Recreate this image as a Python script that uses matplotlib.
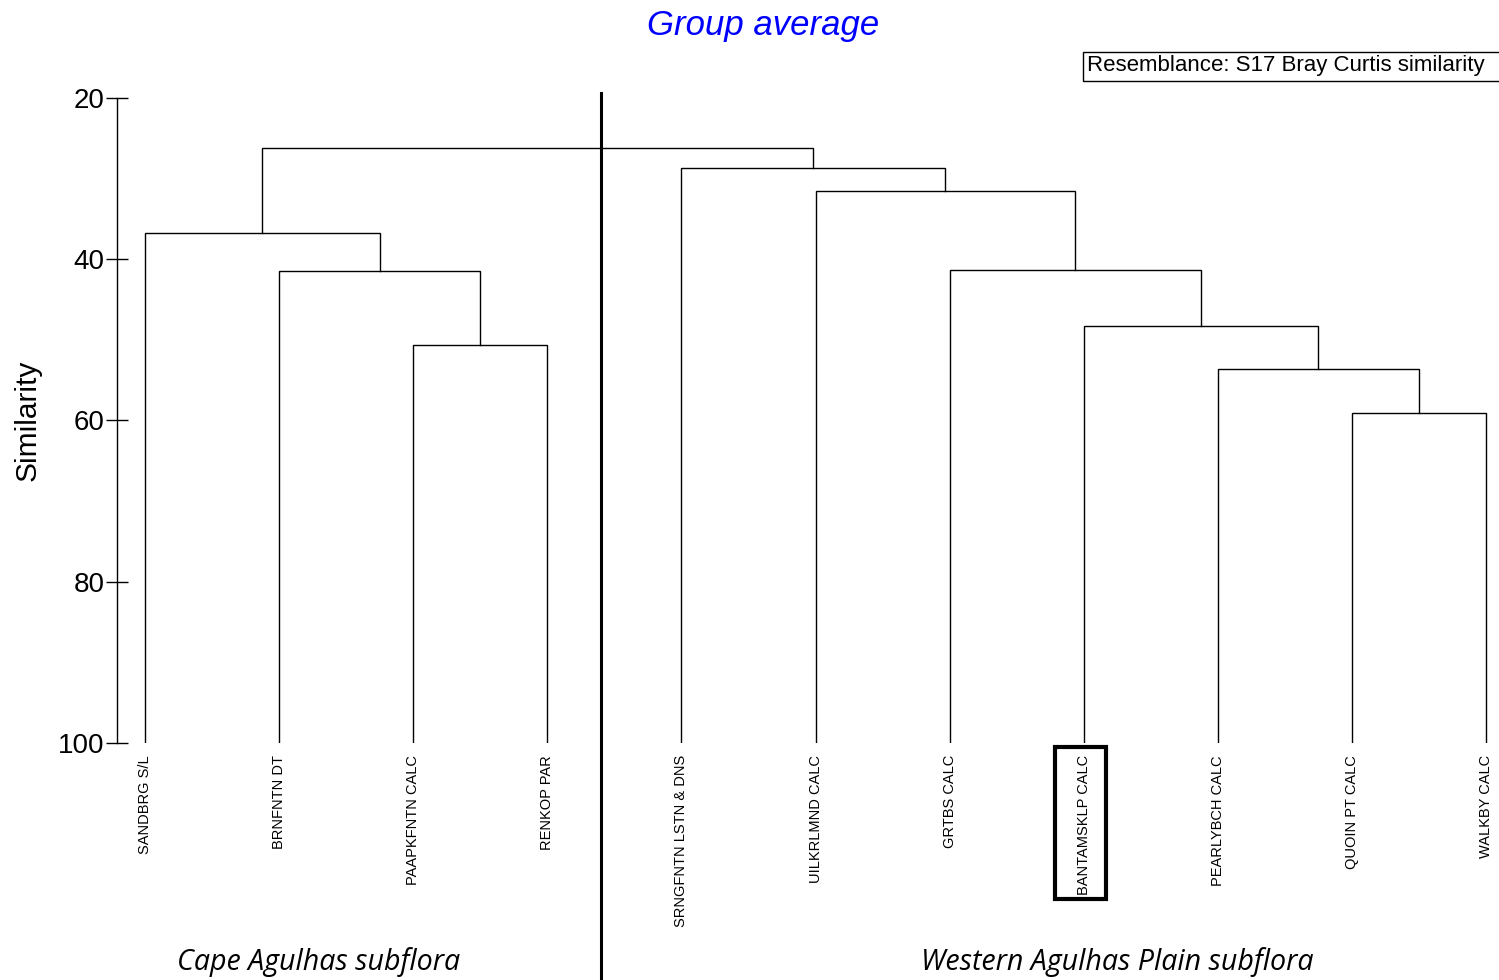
import matplotlib.pyplot as plt
from matplotlib.patches import Rectangle

# leaves in plotted order
leaves = ['SANDBRG S/L', 'BRNFNTN DT', 'PAAPKFNTN CALC', 'RENKOP PAR',
          'SRNGFNTN LSTN & DNS', 'UILKRLMND CALC', 'GRTBS CALC',
          'BANTAMSKLP CALC', 'PEARLYBCH CALC', 'QUOIN PT CALC', 'WALKBY CALC']

# merges: (left node, right node, similarity); nodes >= 11 are earlier merges
merges = [
    (2, 3, 50.6),      # 11
    (1, 11, 41.5),     # 12
    (0, 12, 36.7),     # 13
    (9, 10, 59.1),     # 14
    (8, 14, 53.6),     # 15
    (7, 15, 48.3),     # 16
    (6, 16, 41.3),     # 17
    (5, 17, 31.5),     # 18
    (4, 18, 28.7),     # 19
    (13, 19, 26.2),    # 20
]

yticks = [20, 40, 60, 80, 100]
boxed_leaf = 'BANTAMSKLP CALC'
groups = ['Cape Agulhas subflora', 'Western Agulhas Plain subflora']

fig = plt.figure(figsize=(14.99, 9.8), dpi=100)
ax = fig.add_axes([117/1499, 1-743/980, 1382/1499, 645/980])

n = len(leaves)
xpos = {i: float(i) for i in range(n)}
ypos = {i: 100.0 for i in range(n)}
for k, (a, b, h) in enumerate(merges):
    node = n + k
    ax.plot([xpos[a], xpos[a], xpos[b], xpos[b]], [ypos[a], h, h, ypos[b]],
            color='black', lw=1.0, solid_joinstyle='miter')
    xpos[node] = (xpos[a] + xpos[b]) / 2
    ypos[node] = h

ax.set_xlim(-0.209, 10.097)
ax.set_ylim(100, 20)
for s in ['top', 'right', 'bottom']:
    ax.spines[s].set_visible(False)
ax.spines['left'].set_linewidth(1.0)
ax.set_xticks([])
ax.set_yticks(yticks)
ax.tick_params(axis='y', direction='inout', length=16, width=1.0, labelsize=20, pad=1)
for lab in ax.get_yticklabels():
    lab.set_fontfamily('Liberation Sans')
ax.set_ylabel('Similarity', fontsize=21.5, family='Liberation Sans', labelpad=12)

for i, name in enumerate(leaves):
    ax.text(i, 101.5, name, rotation=90, ha='center', va='top',
            fontsize=10.5, family='Liberation Sans', clip_on=False)
    if name == boxed_leaf:
        ax.add_patch(Rectangle((i - 29/134, 100.5), 51/134, 18.85, fill=False,
                               edgecolor='black', lw=3, clip_on=False))

# separator line between the two subfloras
ax.plot([3.4, 3.4], [1.008, -0.367], transform=ax.get_xaxis_transform(),
        color='black', lw=2.2, clip_on=False)

fig.text(763/1499, 1-25/980, 'Group average', color='#0000ff', fontsize=25,
         style='italic', family='Liberation Sans', ha='center', va='center')
fig.text(1087/1499, 1-66/980, 'Resemblance: S17 Bray Curtis similarity',
         fontsize=16, family='Liberation Sans', ha='left', va='center')
fig.patches.append(Rectangle((1083/1499, 1-81/980), 420/1499, 29/980,
                             transform=fig.transFigure, fill=False,
                             edgecolor='black', lw=1.0))

fig.text(319/1499, 1-962/980, groups[0], fontsize=20.6, style='italic',
         family='Open Sans', ha='center', va='center')
fig.text(1117/1499, 1-962/980, groups[1], fontsize=20.6, style='italic',
         family='Open Sans', ha='center', va='center')

fig.savefig('out.png', dpi=100)
